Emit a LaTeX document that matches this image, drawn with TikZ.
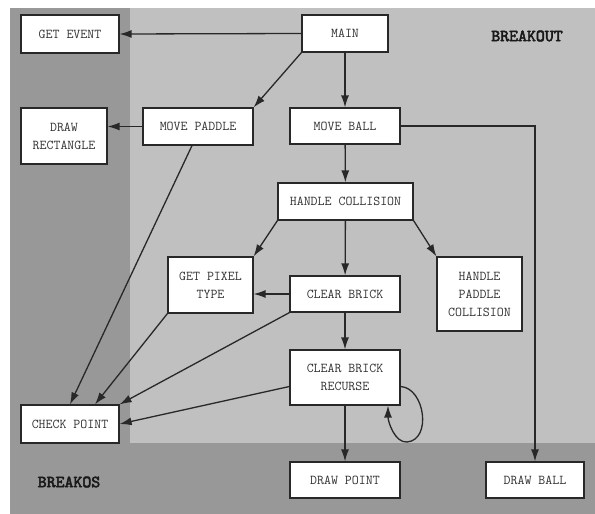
\documentclass[tikz,border=0pt]{standalone}
\usepackage{fontspec}
\newfontfamily\titlefont[FakeBold=3]{lmmono10-regular.otf}
\usetikzlibrary{arrows.meta}
\definecolor{osgray}{RGB}{152,152,152}
\definecolor{outgray}{RGB}{192,192,192}
\definecolor{linegray}{RGB}{40,40,40}
\begin{document}
\begin{tikzpicture}[x=1pt,y=-1pt,
	blk/.style={draw=linegray,line width=1.2pt,fill=white,align=center,inner sep=0pt,
		font=\ttfamily\fontsize{13.5}{18}\selectfont,text=black!80},
	arr/.style={draw=linegray,line width=1.3pt,-{Latex[length=12pt,width=8pt]}},
	title/.style={font=\titlefont\fontsize{17}{18}\selectfont,text=black!90}]
			\useasboundingbox (0,0) rectangle (595,514);
			\fill[osgray] (10,8) rectangle (595,514);
			\fill[outgray] (130,8) rectangle (595,443);
			\node[title] (breakout) at (527,36) {BREAKOUT};
			\node[title] (breakos) at (69,482) {BREAKOS};
			% boxes
			\node[blk,minimum width=98pt,minimum height=38pt] (getevent) at (70,34) {GET EVENT};
			\node[blk,minimum width=86pt,minimum height=37pt] (main) at (345,33.5) {MAIN};
			\node[blk,minimum width=86pt,minimum height=56pt] (drawrect) at (64,136) {DRAW\\RECTANGLE};
			\node[blk,minimum width=110pt,minimum height=37pt] (movepaddle) at (198,126.5) {MOVE PADDLE};
			\node[blk,minimum width=110pt,minimum height=36pt] (moveball) at (345,126) {MOVE BALL};
			\node[blk,minimum width=135pt,minimum height=37pt] (handlecoll) at (345.5,201.5) {HANDLE COLLISION};
			\node[blk,minimum width=85pt,minimum height=56pt] (getpixel) at (210.5,285) {GET PIXEL\\TYPE};
			\node[blk,minimum width=110pt,minimum height=36pt] (clearbrick) at (345,294) {CLEAR BRICK};
			\node[blk,minimum width=85pt,minimum height=74pt] (handlepaddle) at (479.5,294) {HANDLE\\PADDLE\\COLLISION};
			\node[blk,minimum width=110pt,minimum height=55pt] (cbrecurse) at (345,377.5) {CLEAR BRICK\\RECURSE};
			\node[blk,minimum width=98pt,minimum height=38pt] (checkpoint) at (70,424) {CHECK POINT};
			\node[blk,minimum width=110pt,minimum height=36pt] (drawpoint) at (345,480) {DRAW POINT};
			\node[blk,minimum width=98pt,minimum height=36pt] (drawball) at (535,480) {DRAW BALL};
			% calls
			\draw[arr] (main.west) -- (getevent.east);
			\draw[arr] (main.south west) -- (movepaddle.north east);
			\draw[arr] (main) -- (moveball);
			\draw[arr] (movepaddle.west) -- (drawrect.east |- movepaddle.west);
			\draw[arr] ([xshift=-6pt]movepaddle.south) -- (checkpoint.north);
			\draw[arr] (moveball) -- (handlecoll);
			\draw[arr] (moveball.east) -| (drawball.north);
			\draw[arr] (handlecoll.south west) -- (getpixel.north east);
			\draw[arr] (handlecoll) -- (clearbrick);
			\draw[arr] (handlecoll.south east) -- (handlepaddle.north west);
			\draw[arr] (clearbrick.west) -- (getpixel.east |- clearbrick.west);
			\draw[arr] (clearbrick) -- (cbrecurse);
			\draw[arr] (clearbrick.south west) -- (checkpoint.north east);
			\draw[arr] (getpixel.south west) -- ([xshift=25pt]checkpoint.north);
			\draw[arr] ([yshift=-9pt]cbrecurse.west) -- (checkpoint.east);
			\draw[arr] (cbrecurse) -- (drawpoint);
			\draw[arr] ([yshift=-9pt]cbrecurse.east) .. controls (425,388) and (432,440) .. (407,442)
				.. controls (395,443) and (388,422) .. ([xshift=43pt]cbrecurse.south);
		\end{tikzpicture}
\end{document}
